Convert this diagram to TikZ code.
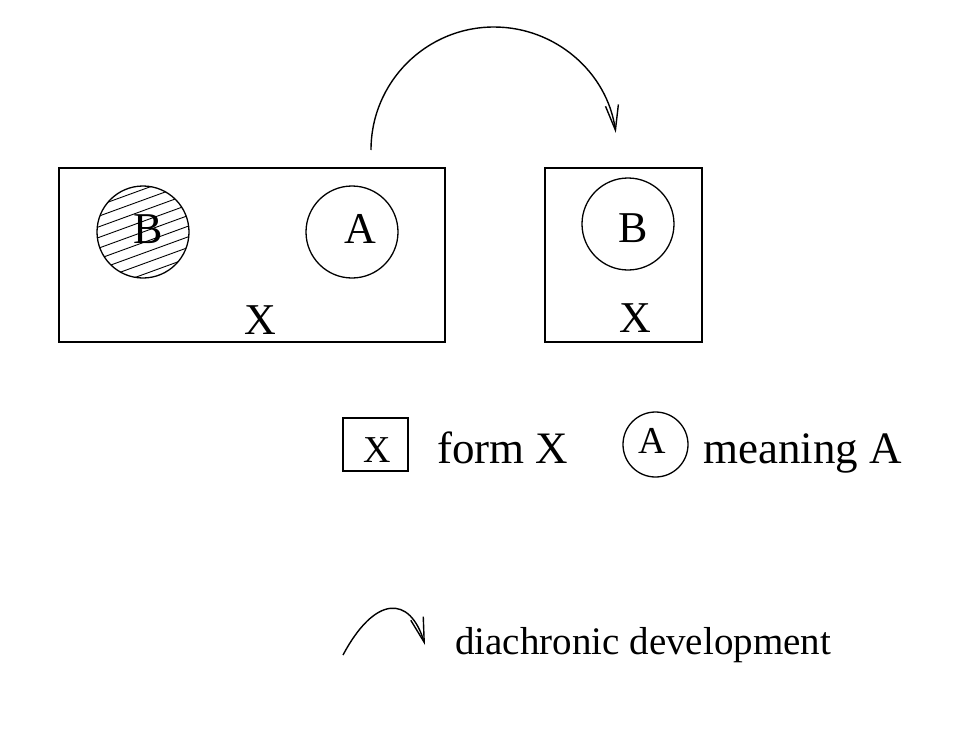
\documentclass[tikz,border=0pt]{standalone}
\usepackage{fontspec}
\setmainfont{Liberation Serif}
\usetikzlibrary{arrows.meta,calc}
\tikzset{
  formbox/.style={draw, line width=2.8pt, inner sep=0pt},
  meaningcirc/.style={draw, circle, line width=1.3pt, inner sep=0pt},
  biglabel/.style={inner sep=0pt, font=\fontsize{44}{50}\selectfont},
  smalllabel/.style={inner sep=0pt, font=\fontsize{38}{44}\selectfont},
  legendtext/.style={inner sep=0pt, anchor=base west, font=\fontsize{45}{50}\selectfont},
  devtext/.style={inner sep=0pt, anchor=base west, font=\fontsize{39}{44}\selectfont},
  devarrow/.style={line width=1.4pt, -{Straight Barb[length=25pt,width=13pt,line width=1.4pt]}},
  hatchline/.style={line width=0.9pt}
}
\begin{document}
\begin{tikzpicture}[x=1pt,y=-1pt]
\useasboundingbox (0,0) rectangle (958,731);
\fill[white] (0,0) rectangle (958,731);

% left form box
\node[formbox, minimum width=386pt, minimum height=174pt] (leftbox) at (252,255) {};
% hatched meaning B
\begin{scope}
  \clip (143,232) circle[radius=46];
  \begin{scope}[shift={(143,232)}, rotate=20]
    \foreach \k in {-6,...,6} {
      \draw[hatchline] (-70,\k*10) -- (70,\k*10);
    }
  \end{scope}
\end{scope}
\node[meaningcirc, minimum size=92pt] (bold) at (143,232) {};
\node[biglabel] (bl) at (148,229) {B};
\node[meaningcirc, minimum size=92pt] (aold) at (352,232) {};
\node[biglabel] (al) at (360,229) {A};
\node[biglabel] (xl) at (260,320) {X};

% right form box
\node[formbox, minimum width=157pt, minimum height=174pt] (rightbox) at (623.5,255) {};
\node[meaningcirc, minimum size=92pt] (bnew) at (628,224) {};
\node[biglabel] (br) at (633,228) {B};
\node[biglabel] (xr) at (635,318) {X};

% big development arc
\coordinate (arcstart) at (371,150);
\draw[devarrow] (arcstart) arc[start angle=180, end angle=352, radius=123];

% legend
\node[formbox, line width=2.5pt, minimum width=65pt, minimum height=53pt] (legbox) at (375.5,444.5) {};
\node[smalllabel] (legx) at (377,450) {X};
\node[legendtext] (formtext) at (437,463) {form X};
\node[meaningcirc, minimum size=65pt] (legcirc) at (655.5,444.5) {};
\node[smalllabel] (lega) at (652,441) {A};
\node[legendtext] (meaningtext) at (703,463) {meaning A};

% legend arrow
\coordinate (sastart) at (343,655);
\coordinate (saend) at (425,645);
\draw[devarrow] (sastart) .. controls (375,595) and (410,595) .. (saend);
\node[devtext] (devlabel) at (455,654) {diachronic development};
\end{tikzpicture}
\end{document}
